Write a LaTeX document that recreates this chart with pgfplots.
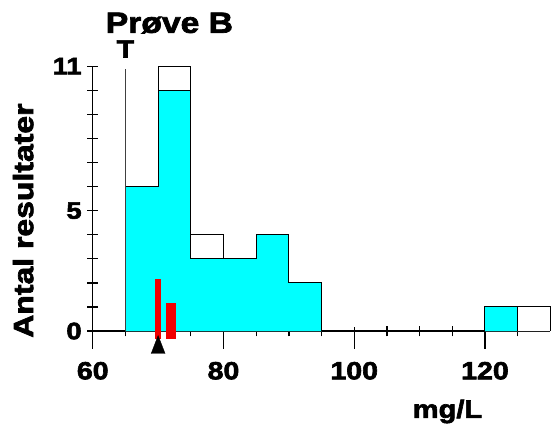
\documentclass[border=0pt]{standalone}
\usepackage{fontspec}
\setmainfont{Liberation Sans}[FakeStretch=1.15, BoldFeatures={FakeBold=2.5}]
\usepackage{pgfplots}
\pgfplotsset{compat=1.18}
\definecolor{histcyan}{RGB}{0,255,255}
\definecolor{barred}{RGB}{240,0,0}
\begin{document}
\begin{tikzpicture}
\begin{axis}[
  scale only axis,
  width=461.3bp, height=267bp,
  xmin=60, xmax=130, ymin=0, ymax=11,
  axis lines=left,
  axis line style={-, line width=1.3bp},
  clip=false,
  xtick={60,80,100,120},
  minor xtick={65,70,75,85,90,95,105,110,115,125},
  ytick={0,5,11},
  minor ytick={0,1,...,11},
  tick align=center,
  major tick length=22bp,
  minor tick length=11bp,
  tick style={line width=1.3bp, black},
  major x tick style={yshift=-7bp},
  major y tick style={draw=none},
  /pgf/number format/assume math mode=true,
  xticklabel style={font=\bfseries\fontsize{25bp}{25bp}\selectfont, inner sep=0pt, anchor=north, yshift=-20bp},
  yticklabel style={font=\bfseries\fontsize{24bp}{24bp}\selectfont, inner sep=0pt, anchor=east},
  title={Prøve B},
  title style={at={(axis description cs:0.1676,1.140)}, anchor=center, inner sep=0pt, font=\bfseries\fontsize{29.5bp}{29.5bp}\selectfont},
  ylabel={Antal resultater},
  ylabel style={at={(axis description cs:-0.152,0.417)}, anchor=center, inner sep=0pt, font=\bfseries\fontsize{28bp}{28bp}\selectfont},
  xlabel={mg/L},
  xlabel style={at={(axis description cs:0.7752,-0.328)}, anchor=base, inner sep=0pt, font=\bfseries\fontsize{25.5bp}{25.5bp}\selectfont},
]
% total results (outline)
\addplot[const plot, fill=white, draw=black, line width=1bp] coordinates {(65,0) (65,6) (70,11) (75,4) (80,3) (85,4) (90,2) (95,0)};
\addplot[const plot, fill=white, draw=black, line width=1bp] coordinates {(120,0) (120,1) (130,0)};
% accepted results (cyan)
\addplot[const plot, fill=histcyan, draw=black, line width=1bp] coordinates {(65,0) (65,6) (70,10) (75,3) (85,4) (90,2) (95,0)};
\addplot[const plot, fill=histcyan, draw=black, line width=1bp] coordinates {(120,0) (120,1) (125,0)};
% T line
\addplot[draw=black!75, line width=0.9bp] coordinates {(65,0) (65,10.87)};
% red bars
\addplot[fill=barred, draw=none] coordinates {(69.55,-0.33) (70.4,-0.33) (70.4,2.15) (69.55,2.15)};
\addplot[fill=barred, draw=none] coordinates {(71.2,-0.33) (72.8,-0.33) (72.8,1.15) (71.2,1.15)};
% triangle
\addplot[only marks, mark=triangle*, mark size=12bp, mark options={xscale=0.67, fill=black, draw=black}] coordinates {(70,-0.684)};
\node[anchor=base, inner sep=0pt, font=\bfseries\fontsize{25bp}{25bp}\selectfont] at (axis cs:65,11.36) {T};
\end{axis}
\path[use as bounding box] (-93.5bp,-87.3bp) rectangle (457.5bp,333.7bp);
\end{tikzpicture}
\end{document}
